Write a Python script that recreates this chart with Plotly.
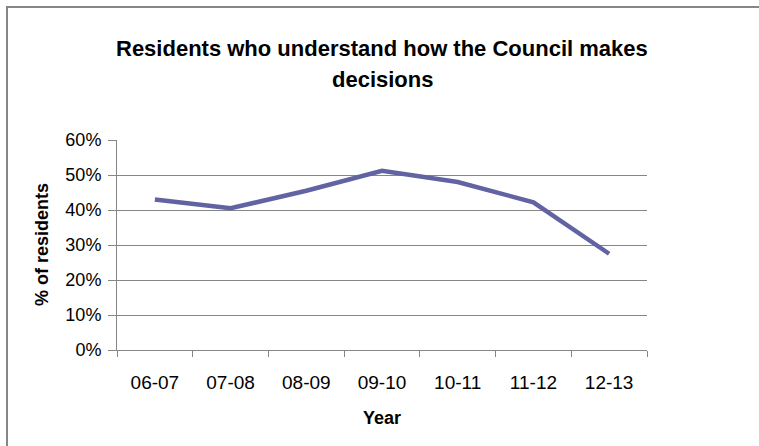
import plotly.graph_objects as go

years = ["06-07", "07-08", "08-09", "09-10", "10-11", "11-12", "12-13"]
pct_residents = [0.43, 0.405, 0.455, 0.512, 0.48, 0.422, 0.275]
y_ticks = [0, 0.1, 0.2, 0.3, 0.4, 0.5, 0.6]

title_lines = ["Residents who understand how the Council makes", "decisions"]
x_title = "Year"
y_title = "% of residents"

FONT = "Liberation Sans, Arial, sans-serif"
GRID = "#868686"

W, H = 759, 446
L, R, T, B = 117, 112, 140, 96
PW, PH = W - L - R, H - T - B

def px(x):
    return (x - L) / PW

def py(y):
    return (H - B - y) / PH

fig = go.Figure()
fig.add_trace(go.Scatter(
    x=years, y=pct_residents, mode="lines",
    line=dict(color="#6163A2", width=4.5),
    showlegend=False, hoverinfo="x+y",
))

fig.update_layout(
    width=W, height=H,
    margin=dict(l=L, r=R, t=T, b=B),
    paper_bgcolor="white", plot_bgcolor="white",
    font=dict(family=FONT, size=15, color="#000000"),
    xaxis=dict(
        type="category", range=[-0.5, 6.5], tickson="boundaries",
        ticks="outside", ticklen=6, tickcolor=GRID, tickwidth=1,
        showline=True, linecolor=GRID, linewidth=1,
        showgrid=False, zeroline=False,
        tickfont=dict(family=FONT, size=19),
        ticklabelstandoff=15,
    ),
    yaxis=dict(
        range=[0, 0.6], tickvals=y_ticks, tickformat=".0%",
        ticks="outside", ticklen=8, tickcolor=GRID, tickwidth=1,
        showline=True, linecolor=GRID, linewidth=1,
        showgrid=True, gridcolor=GRID, gridwidth=1, zeroline=False,
        tickfont=dict(family=FONT, size=18),
        ticklabelstandoff=3,
    ),
    annotations=[
        dict(text="<b>%s</b>" % title_lines[0], x=px(382), y=py(48), xref="paper", yref="paper",
             showarrow=False, xanchor="center", yanchor="middle",
             font=dict(family=FONT, size=22)),
        dict(text="<b>%s</b>" % title_lines[1], x=px(382), y=py(80), xref="paper", yref="paper",
             showarrow=False, xanchor="center", yanchor="middle",
             font=dict(family=FONT, size=22)),
        dict(text="<b>%s</b>" % x_title, x=px(382), y=py(418), xref="paper", yref="paper",
             showarrow=False, xanchor="center", yanchor="middle",
             font=dict(family=FONT, size=18)),
        dict(text="<b>%s</b>" % y_title, x=px(42), y=py(245), xref="paper", yref="paper",
             showarrow=False, xanchor="center", yanchor="middle", textangle=-90,
             font=dict(family=FONT, size=18)),
    ],
    shapes=[
        dict(type="rect", xref="paper", yref="paper",
             x0=px(7), x1=px(W + 20), y0=py(H + 20), y1=py(7),
             line=dict(color=GRID, width=2), fillcolor="rgba(0,0,0,0)", layer="below"),
    ],
)

fig.write_html("out.html")
